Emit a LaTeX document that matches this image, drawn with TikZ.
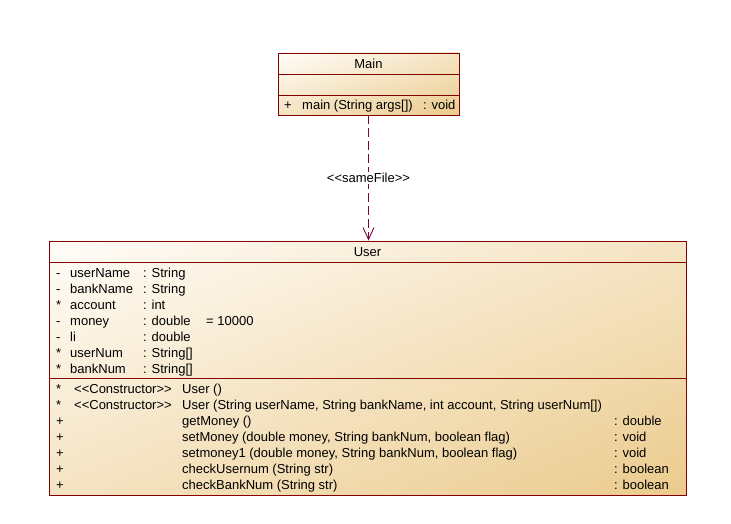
\documentclass[tikz,border=0pt]{standalone}
\usepackage{fontspec}
\setmainfont{Liberation Sans}
\usetikzlibrary{arrows.meta,shadings}
\definecolor{umlborder}{HTML}{840000}
\definecolor{umlconn}{HTML}{800040}
\definecolor{fillA}{HTML}{FFFDF9}
\definecolor{fillB}{HTML}{EBCB8D}
\definecolor{fillM}{HTML}{F5E4C3}
\tikzset{
  classbox/.style={draw=umlborder, line width=0.9pt, rectangle, inner sep=0pt, shade,
    upper left=fillA, lower right=fillB, upper right=fillM, lower left=fillM},
  sep/.style={draw=umlborder, line width=0.9pt},
  txt/.style={anchor=base west, inner sep=0pt, font=\fontsize{13}{15}\selectfont},
  ctxt/.style={anchor=base, inner sep=0pt, font=\fontsize{13}{15}\selectfont},
  dep/.style={draw=umlconn, line width=0.9pt, dash pattern=on 9pt off 4pt,
    -{Straight Barb[length=12pt, width=11pt, line width=0.9pt]}},
}
\begin{document}
\begin{tikzpicture}[x=1pt, y=-1pt]
\useasboundingbox (0,0) rectangle (731,524);
% Main class
\node[classbox, minimum width=181pt, minimum height=62pt] (main) at (368.5,84) {};
\draw[sep] (278,74) -- (459,74);
\draw[sep] (278,95) -- (459,95);
\node[ctxt] (mainname) at (368.5,68.5) {Main};
\node[txt] (mvis) at (284,109.5) {+};
\node[txt] (mop) at (302,109.5) {main (String args[])};
\node[txt] (mret) at (423,109.5) {: void};
% User class
\node[classbox, minimum width=637pt, minimum height=254pt] (user) at (367.5,368) {};
\draw[sep] (49,262) -- (686,262);
\draw[sep] (49,378) -- (686,378);
\node[ctxt] (username) at (367.5,256.5) {User};
% attributes
\foreach \v/\n/\t [count=\i] in {-/userName/: String, -/bankName/: String, */account/: int, -/money/: double, -/li/: double, */userNum/: String[], */bankNum/: String[]}{
  \node[txt] (av\i) at (56,{272+16*(\i-1)+5}) {\v};
  \node[txt] (an\i) at (70,{272+16*(\i-1)+5}) {\n};
  \node[txt] (at\i) at (143,{272+16*(\i-1)+5}) {\t};
}
\node[txt] (adef) at (206,325) {= 10000};
% operations
\node[txt] (ov1) at (56,393) {*};
\node[txt] (os1) at (74,393) {<{}<Constructor>{}>};
\node[txt] (on1) at (182,393) {User ()};
\node[txt] (ov2) at (56,409) {*};
\node[txt] (os2) at (74,409) {<{}<Constructor>{}>};
\node[txt] (on2) at (182,409) {User (String userName, String bankName, int account, String userNum[])};
\foreach \n/\t [count=\i from 3] in {getMoney ()/: double, {setMoney (double money, String bankNum, boolean flag)}/: void, {setmoney1 (double money, String bankNum, boolean flag)}/: void, checkUsernum (String str)/: boolean, checkBankNum (String str)/: boolean}{
  \node[txt] (ov\i) at (56,{393+16*(\i-1)}) {+};
  \node[txt] (on\i) at (182,{393+16*(\i-1)}) {\n};
  \node[txt] (ot\i) at (614,{393+16*(\i-1)}) {\t};
}
% dependency
\draw[dep] (main.south) -- (main.south |- user.north) node[pos=0.5, fill=white, inner sep=1pt, font=\fontsize{13}{15}\selectfont, text=black] (lbl) {<{}<sameFile>{}>};
\end{tikzpicture}
\end{document}
